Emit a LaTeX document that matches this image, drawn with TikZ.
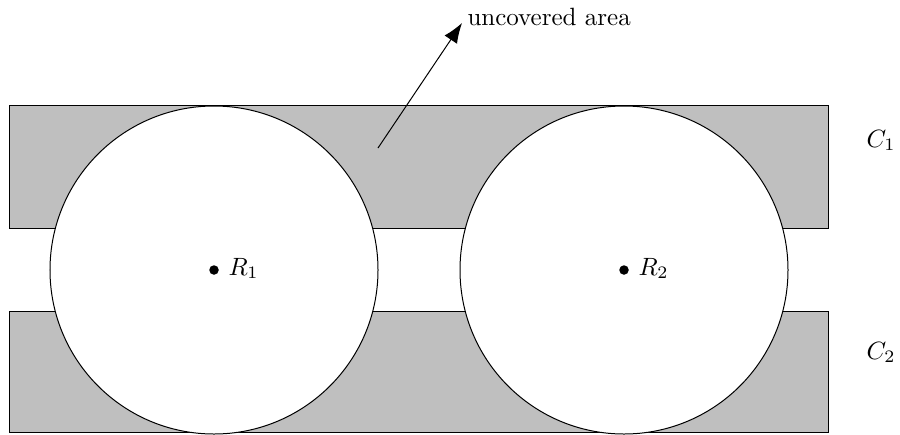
\documentclass[tikz,border=0pt]{standalone}
\usetikzlibrary{arrows.meta}
\begin{document}
\begin{tikzpicture}[x=0.4pt,y=-0.4pt,
  band/.style={draw=black, fill=black!25, line width=0.4pt},
  disc/.style={circle, draw=black, fill=white, line width=0.4pt, minimum size=131.2pt, inner sep=0pt},
  centre/.style={circle, fill=black, minimum size=3.8pt, inner sep=0pt},
  lbl/.style={inner sep=0pt, anchor=base west}]
\useasboundingbox (0,0) rectangle (900,434);
\draw[band] (9.5,105.5) rectangle (828.5,228);
\draw[band] (9.5,311) rectangle (828.5,432.3);
\node[disc] (c1) at (214,270) {};
\node[disc] (c2) at (624,270) {};
\node[centre] (r1) at (214,270) {};
\node[centre] (r2) at (624,270) {};
\node[lbl] (l1) at (228,275) {$R_1$};
\node[lbl] (l2) at (638,275) {$R_2$};
\node[lbl] (k1) at (866,147) {$C_1$};
\node[lbl] (k2) at (866,359) {$C_2$};
\node[lbl] (ua) at (467,25) {uncovered area};
\coordinate (s) at (378,148);
\coordinate (t) at (462,23);
\draw[-{Latex[length=8pt,width=6pt]}] (s) -- (t);
\end{tikzpicture}
\end{document}
